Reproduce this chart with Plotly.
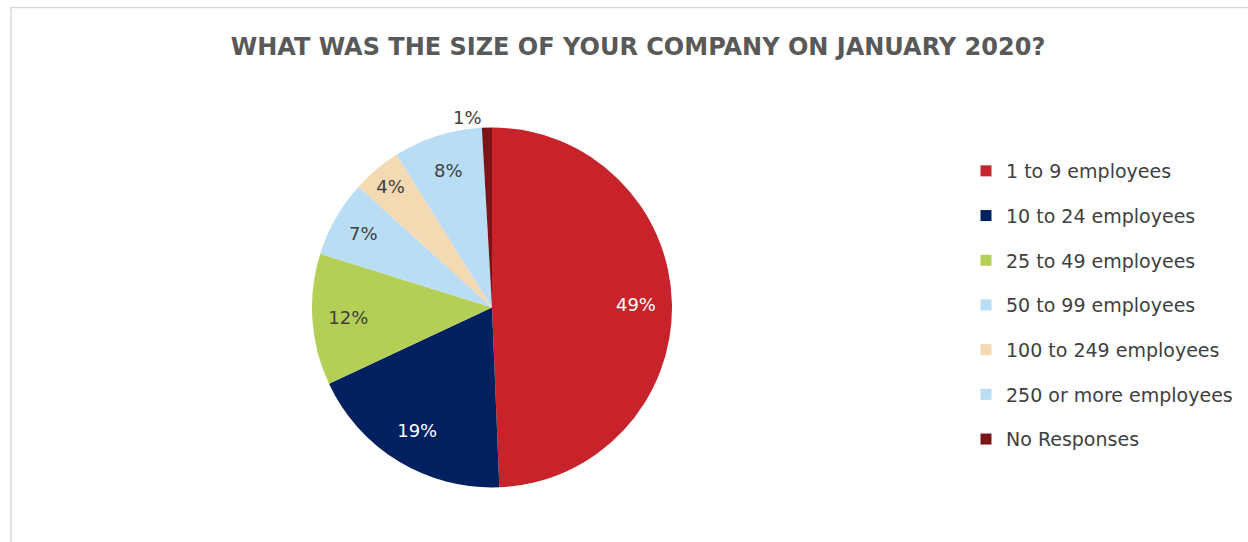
import plotly.graph_objects as go

categories = ["1 to 9 employees", "10 to 24 employees", "25 to 49 employees",
              "50 to 99 employees", "100 to 249 employees", "250 or more employees",
              "No Responses"]
values = [49.4, 18.7, 11.8, 6.9, 4.4, 8.0, 0.9]
colors = ["#C8222B", "#002060", "#B3CF55", "#B8DDF4", "#F3DAB3", "#B8DDF4", "#7B1417"]
text_colors = ["#FFFFFF", "#FFFFFF", "#404040", "#404040", "#404040", "#404040", "#404040"]
text_positions = ["inside", "inside", "inside", "inside", "inside", "inside", "outside"]
title_text = "WHAT WAS THE SIZE OF YOUR COMPANY ON JANUARY 2020?"

W, H = 1248, 542
pie_domain = dict(x=[312 / W, 672 / W], y=[1 - 487.5 / H, 1 - 127.5 / H])
fig = go.Figure()

# coloured slices
fig.add_trace(go.Pie(
    labels=categories, values=values, sort=False, direction="clockwise", rotation=0,
    marker=dict(colors=colors, line=dict(width=0)),
    textinfo="none", showlegend=False, hoverinfo="label+percent",
    domain=pie_domain,
))

# transparent ring carrying the percentage labels (places them near 0.8 r like the original)
fig.add_trace(go.Pie(
    labels=categories, values=values, sort=False, direction="clockwise", rotation=0,
    hole=0.6,
    marker=dict(colors=["rgba(0,0,0,0)"] * len(values), line=dict(width=0)),
    texttemplate="%{percent:.0%}", textposition=text_positions,
    insidetextorientation="horizontal",
    insidetextfont=dict(color=text_colors, family="DejaVu Sans", size=18),
    outsidetextfont=dict(color="#404040", family="DejaVu Sans", size=18),
    showlegend=False, hoverinfo="skip",
    domain=pie_domain,
))

for i, (c, col) in enumerate(zip(categories, colors)):
    fig.add_trace(go.Scatter(
        x=[None], y=[None], mode="markers", name=c,
        marker=dict(symbol="square", size=11, color=col),
        legendgroup=f"g{i}", showlegend=True,
    ))

fig.update_layout(
    width=W, height=H,
    margin=dict(l=0, r=0, t=0, b=0),
    paper_bgcolor="white", plot_bgcolor="white",
    title=dict(text=title_text, x=638 / W, xanchor="center", y=1 - 47 / H, yanchor="middle",
               font=dict(family="DejaVu Sans", size=24, color="#595959", weight="bold")),
    xaxis=dict(visible=False, domain=[0, 0.01]),
    yaxis=dict(visible=False, domain=[0, 0.01]),
    legend=dict(x=966 / W, xanchor="left", y=1 - 152 / H, yanchor="top",
                font=dict(family="DejaVu Sans", size=19, color="#404040"),
                tracegroupgap=17, itemwidth=30, bgcolor="rgba(0,0,0,0)"),
    shapes=[dict(type="rect", xref="paper", yref="paper",
                 x0=11 / W, x1=1.05, y0=-0.05, y1=1 - 7.5 / H,
                 line=dict(color="#D9D9D9", width=1.5), fillcolor="rgba(0,0,0,0)")],
)

fig.write_html("out.html", config={"displayModeBar": False},
               post_script="document.body.style.margin='0';document.body.style.overflow='hidden';")
